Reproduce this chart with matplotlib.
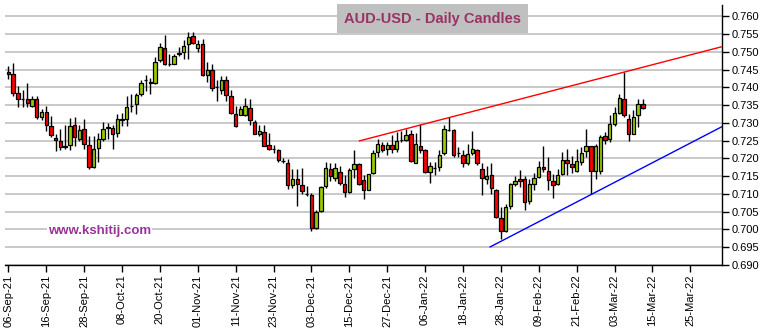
import matplotlib
matplotlib.use("Agg")
import matplotlib.pyplot as plt
import numpy as np

# AUD-USD daily candles, 06-Sep-21 .. 11-Mar-22 (one row per trading day)
opens = [0.7444, 0.7437, 0.7385, 0.7368, 0.7368, 0.7349, 0.7368, 0.7318, 0.7332, 0.7292,
         0.7258, 0.7250, 0.7233, 0.7237, 0.7294, 0.7254, 0.7282, 0.7238, 0.7177, 0.7229,
         0.7256, 0.7287, 0.7286, 0.7271, 0.7309, 0.7311, 0.7348, 0.7352, 0.7382, 0.7421,
         0.7414, 0.7413, 0.7476, 0.7511, 0.7466, 0.7467, 0.7493, 0.7500, 0.7521, 0.7544,
         0.7510, 0.7521, 0.7434, 0.7450, 0.7401, 0.7394, 0.7422, 0.7375, 0.7326, 0.7323,
         0.7323, 0.7343, 0.7302, 0.7268, 0.7275, 0.7239, 0.7228, 0.7225, 0.7194, 0.7188,
         0.7126, 0.7141, 0.7126, 0.7101, 0.7096, 0.7003, 0.7052, 0.7122, 0.7170, 0.7146,
         0.7162, 0.7129, 0.7106, 0.7170, 0.7183, 0.7139, 0.7112, 0.7158, 0.7217, 0.7239,
         0.7228, 0.7237, 0.7228, 0.7251, 0.7253, 0.7268, 0.7188, 0.7235, 0.7223, 0.7162,
         0.7172, 0.7176, 0.7214, 0.7281, 0.7281, 0.7214, 0.7209, 0.7186, 0.7214, 0.7225,
         0.7169, 0.7143, 0.7153, 0.7112, 0.7031, 0.6996, 0.7066, 0.7129, 0.7141, 0.7141,
         0.7080, 0.7129, 0.7148, 0.7176, 0.7165, 0.7136, 0.7129, 0.7155, 0.7195, 0.7185,
         0.7165, 0.7190, 0.7220, 0.7234, 0.7165, 0.7165, 0.7262, 0.7254, 0.7298, 0.7329,
         0.7366, 0.7312, 0.7270, 0.7321, 0.7354]
highs = [0.7460, 0.7468, 0.7405, 0.7393, 0.7412, 0.7377, 0.7375, 0.7340, 0.7349, 0.7320,
         0.7269, 0.7283, 0.7294, 0.7314, 0.7318, 0.7294, 0.7312, 0.7264, 0.7264, 0.7273,
         0.7303, 0.7301, 0.7295, 0.7325, 0.7328, 0.7377, 0.7382, 0.7384, 0.7422, 0.7436,
         0.7427, 0.7486, 0.7524, 0.7547, 0.7495, 0.7493, 0.7514, 0.7533, 0.7555, 0.7555,
         0.7533, 0.7536, 0.7472, 0.7466, 0.7420, 0.7431, 0.7431, 0.7394, 0.7347, 0.7347,
         0.7371, 0.7368, 0.7307, 0.7293, 0.7293, 0.7273, 0.7237, 0.7228, 0.7200, 0.7198,
         0.7171, 0.7171, 0.7174, 0.7122, 0.7104, 0.7056, 0.7123, 0.7190, 0.7186, 0.7188,
         0.7179, 0.7153, 0.7172, 0.7225, 0.7188, 0.7153, 0.7157, 0.7223, 0.7256, 0.7247,
         0.7247, 0.7265, 0.7275, 0.7278, 0.7284, 0.7280, 0.7272, 0.7298, 0.7228, 0.7190,
         0.7190, 0.7225, 0.7294, 0.7317, 0.7284, 0.7233, 0.7223, 0.7242, 0.7278, 0.7228,
         0.7186, 0.7179, 0.7186, 0.7115, 0.7062, 0.7073, 0.7131, 0.7150, 0.7167, 0.7150,
         0.7143, 0.7159, 0.7193, 0.7235, 0.7205, 0.7155, 0.7171, 0.7218, 0.7228, 0.7206,
         0.7228, 0.7231, 0.7284, 0.7234, 0.7242, 0.7265, 0.7275, 0.7322, 0.7345, 0.7381,
         0.7443, 0.7324, 0.7336, 0.7367, 0.7366]
lows = [0.7425, 0.7375, 0.7344, 0.7344, 0.7344, 0.7344, 0.7311, 0.7308, 0.7278, 0.7261,
        0.7221, 0.7223, 0.7226, 0.7223, 0.7235, 0.7250, 0.7226, 0.7171, 0.7174, 0.7191,
        0.7250, 0.7254, 0.7228, 0.7259, 0.7292, 0.7292, 0.7330, 0.7324, 0.7375, 0.7391,
        0.7382, 0.7410, 0.7472, 0.7462, 0.7460, 0.7465, 0.7489, 0.7481, 0.7481, 0.7522,
        0.7500, 0.7432, 0.7415, 0.7390, 0.7362, 0.7381, 0.7362, 0.7326, 0.7289, 0.7321,
        0.7319, 0.7295, 0.7268, 0.7262, 0.7234, 0.7225, 0.7215, 0.7190, 0.7188, 0.7115,
        0.7117, 0.7066, 0.7101, 0.7094, 0.6996, 0.7001, 0.7049, 0.7118, 0.7136, 0.7136,
        0.7125, 0.7092, 0.7103, 0.7146, 0.7125, 0.7085, 0.7111, 0.7156, 0.7204, 0.7217,
        0.7211, 0.7214, 0.7219, 0.7247, 0.7250, 0.7190, 0.7186, 0.7214, 0.7159, 0.7131,
        0.7153, 0.7165, 0.7209, 0.7278, 0.7203, 0.7205, 0.7176, 0.7181, 0.7209, 0.7181,
        0.7096, 0.7127, 0.7099, 0.7031, 0.6974, 0.6993, 0.7059, 0.7122, 0.7120, 0.7056,
        0.7071, 0.7111, 0.7146, 0.7162, 0.7112, 0.7090, 0.7124, 0.7153, 0.7153, 0.7160,
        0.7162, 0.7181, 0.7204, 0.7101, 0.7143, 0.7155, 0.7240, 0.7246, 0.7291, 0.7324,
        0.7317, 0.7248, 0.7268, 0.7289, 0.7338]
closes = [0.7438, 0.7385, 0.7368, 0.7367, 0.7356, 0.7368, 0.7318, 0.7332, 0.7294, 0.7266,
          0.7252, 0.7231, 0.7234, 0.7291, 0.7259, 0.7280, 0.7240, 0.7177, 0.7226, 0.7254,
          0.7284, 0.7288, 0.7269, 0.7311, 0.7310, 0.7346, 0.7349, 0.7379, 0.7413, 0.7422,
          0.7413, 0.7472, 0.7514, 0.7467, 0.7465, 0.7489, 0.7498, 0.7517, 0.7541, 0.7524,
          0.7521, 0.7434, 0.7450, 0.7399, 0.7400, 0.7422, 0.7380, 0.7328, 0.7291, 0.7340,
          0.7347, 0.7307, 0.7270, 0.7276, 0.7236, 0.7227, 0.7227, 0.7197, 0.7193, 0.7126,
          0.7143, 0.7129, 0.7108, 0.7100, 0.7005, 0.7049, 0.7120, 0.7172, 0.7151, 0.7172,
          0.7131, 0.7106, 0.7167, 0.7183, 0.7127, 0.7112, 0.7156, 0.7216, 0.7242, 0.7223,
          0.7237, 0.7228, 0.7250, 0.7252, 0.7265, 0.7193, 0.7240, 0.7223, 0.7162, 0.7178,
          0.7173, 0.7209, 0.7284, 0.7280, 0.7209, 0.7214, 0.7188, 0.7212, 0.7228, 0.7186,
          0.7145, 0.7150, 0.7118, 0.7034, 0.6996, 0.7064, 0.7129, 0.7136, 0.7137, 0.7078,
          0.7127, 0.7146, 0.7176, 0.7169, 0.7139, 0.7126, 0.7153, 0.7195, 0.7188, 0.7176,
          0.7192, 0.7216, 0.7234, 0.7165, 0.7234, 0.7261, 0.7253, 0.7296, 0.7329, 0.7371,
          0.7322, 0.7268, 0.7317, 0.7354, 0.7343]

# x-axis labels, one every 8 trading days
tick_labels = ["06-Sep-21", "16-Sep-21", "28-Sep-21", "08-Oct-21", "20-Oct-21",
               "01-Nov-21", "11-Nov-21", "23-Nov-21", "03-Dec-21", "15-Dec-21",
               "27-Dec-21", "06-Jan-22", "18-Jan-22", "28-Jan-22", "09-Feb-22",
               "21-Feb-22", "03-Mar-22", "15-Mar-22", "25-Mar-22"]
tick_step = 8
n_slots = 151

# trend lines: (day index, price) anchor points
resistance = [(74, 0.7249), (130, 0.7443)]
support = [(101.6, 0.6950), (123, 0.7098)]

GREEN = "#99cc00"
RED = "#ff0000"

fig = plt.figure(figsize=(7.63, 3.29), dpi=100)
ax = fig.add_axes([0.0066, 0.1945, 0.9397, 0.7903])

o = np.array(opens)
h = np.array(highs)
l = np.array(lows)
c = np.array(closes)
x = np.arange(len(o))
up = c >= o

ax.vlines(x, l, h, color="black", linewidth=1.0, zorder=3)
body_lo = np.minimum(o, c)
body_h = np.maximum(np.abs(c - o), 0.00008)
ax.bar(x, body_h, bottom=body_lo, width=0.72,
       color=np.where(up, GREEN, RED), edgecolor="black", linewidth=0.9, zorder=4)

xmin, xmax = -0.7, n_slots - 0.3


def trend(pts, color):
    (x0, y0), (x1, y1) = pts
    slope = (y1 - y0) / (x1 - x0)
    xs = np.array([x0, xmax])
    ax.plot(xs, y0 + slope * (xs - x0), color=color, linewidth=1.0, zorder=5,
            solid_capstyle="butt")


trend(resistance, "red")
trend(support, "blue")

ax.set_xlim(xmin, xmax)
ax.set_ylim(0.690, 0.7632)

yt = np.arange(0.690, 0.7601, 0.005)
ax.set_yticks(yt)
ax.set_yticklabels(["%.3f" % v for v in yt], fontsize=8, family="Liberation Sans")
ax.yaxis.tick_right()
ax.grid(axis="y", color="#c0c0c0", linewidth=1.2, zorder=0)
ax.set_axisbelow(True)

ax.set_xticks(np.arange(len(tick_labels)) * tick_step)
ax.set_xticklabels(tick_labels, rotation=90, fontsize=8, family="Liberation Sans")

for s in ["top", "left"]:
    ax.spines[s].set_visible(False)
ax.spines["right"].set_linewidth(1.0)
ax.spines["bottom"].set_linewidth(1.0)
ax.tick_params(axis="both", direction="out", length=5, width=1.0, pad=2, colors="black")

ax.text(0.596, 0.947, "AUD-USD - Daily Candles", transform=ax.transAxes,
        ha="center", va="center", fontsize=10.5, fontweight="bold",
        color="#993366", family="Liberation Sans",
        bbox=dict(boxstyle="square,pad=0.5", facecolor="#c0c0c0", edgecolor="none"))
ax.text(0.060, 0.13, "www.kshitij.com", transform=ax.transAxes,
        ha="left", va="center", fontsize=9.5, fontweight="bold",
        color="#993399", family="Liberation Sans",
        bbox=dict(boxstyle="square,pad=0.1", facecolor="white", edgecolor="none"))

fig.savefig("out.png", dpi=100)
